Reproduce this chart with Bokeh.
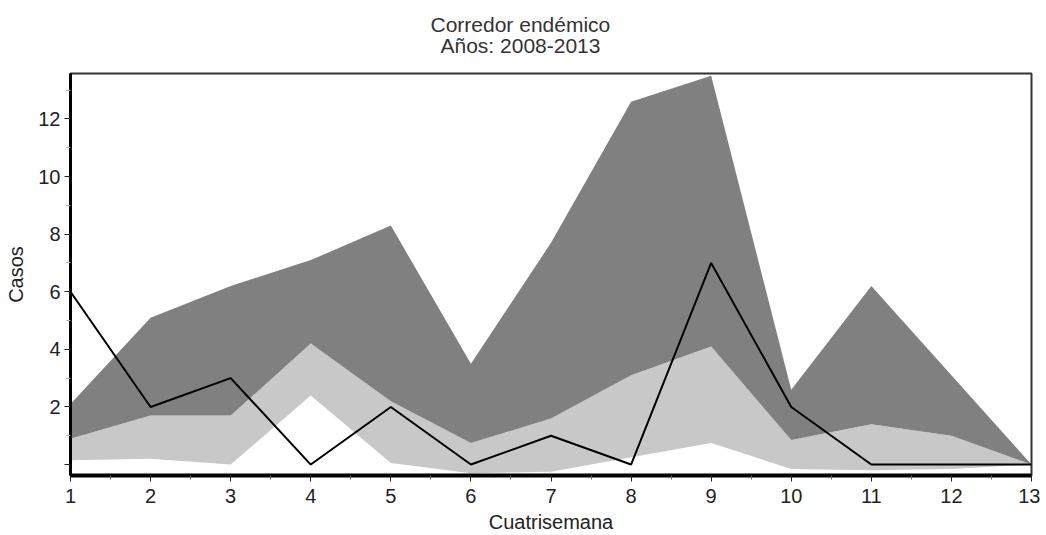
from bokeh.plotting import figure
from bokeh.models import FixedTicker, Range1d, Title
from bokeh.embed import file_html
from bokeh.resources import INLINE

# ---- data ----
cuatrisemanas = [1, 2, 3, 4, 5, 6, 7, 8, 9, 10, 11, 12, 13]
limite_superior = [2.1, 5.1, 6.2, 7.1, 8.3, 3.5, 7.7, 12.6, 13.5, 2.6, 6.2, 3.1, 0.0]
mediana = [0.9, 1.7, 1.7, 4.2, 2.2, 0.75, 1.6, 3.1, 4.1, 0.85, 1.4, 1.0, 0.0]
limite_inferior = [0.15, 0.2, 0.0, 2.4, 0.05, -0.3, -0.25, 0.25, 0.75, -0.15, -0.2, -0.15, 0.0]
casos_observados = [6, 2, 3, 0, 2, 0, 1, 0, 7, 2, 0, 0, 0]

y_ticks = [0, 2, 4, 6, 8, 10, 12]
y_minor = [1, 3, 5, 7, 9, 11, 13]
x_ticks = cuatrisemanas
x_minor = [1.5, 2.5, 3.5, 4.5, 5.5, 6.5, 7.5, 8.5, 9.5, 10.5, 11.5, 12.5]

titulo_1 = "Corredor endémico"
titulo_2 = "Años: 2008-2013"
etiqueta_x = "Cuatrisemana"
etiqueta_y = "Casos"

FONT = "Liberation Sans"

p = figure(width=1040, height=535, output_backend="svg", toolbar_location=None,
           x_range=Range1d(1, 13), y_range=Range1d(-0.38, 13.58),
           min_border_left=70, min_border_right=9, min_border_top=73, min_border_bottom=60,
           background_fill_color="white", border_fill_color="white")
p.grid.visible = False
p.outline_line_color = "#333333"
p.outline_line_width = 2

# bands
p.varea(x=cuatrisemanas, y1=limite_inferior, y2=mediana, fill_color="#c8c8c8")
p.varea(x=cuatrisemanas, y1=mediana, y2=limite_superior, fill_color="#808080")
# observed
p.line(x=cuatrisemanas, y=casos_observados, line_color="black", line_width=2)

# axes
xa = p.xaxis[0]
xa.ticker = FixedTicker(ticks=x_ticks, minor_ticks=x_minor)
xa.axis_line_width = 4
xa.axis_line_color = "black"
xa.major_tick_out = 6
xa.major_tick_in = 0
xa.minor_tick_out = 4
xa.minor_tick_in = 0
xa.major_tick_line_color = "#222222"
xa.minor_tick_line_color = "#666666"
xa.major_label_text_font = FONT
xa.major_label_text_font_size = "20px"
xa.major_label_text_color = "#222222"
xa.major_label_standoff = 7
xa.axis_label = etiqueta_x
xa.axis_label_text_font = FONT
xa.axis_label_text_font_size = "20px"
xa.axis_label_text_font_style = "normal"
xa.axis_label_text_color = "#222222"
xa.axis_label_standoff = 5

ya = p.yaxis[0]
ya.ticker = FixedTicker(ticks=y_ticks, minor_ticks=y_minor)
ya.major_label_overrides = {0: ""}
ya.axis_line_width = 3
ya.axis_line_color = "black"
ya.major_tick_out = 6
ya.major_tick_in = 0
ya.minor_tick_out = 4
ya.minor_tick_in = 0
ya.major_tick_line_color = "#222222"
ya.minor_tick_line_color = "#aaaaaa"
ya.major_label_text_font = FONT
ya.major_label_text_font_size = "20px"
ya.major_label_text_color = "#222222"
ya.major_label_standoff = 4
ya.axis_label = etiqueta_y
ya.axis_label_text_font = FONT
ya.axis_label_text_font_size = "20px"
ya.axis_label_text_font_style = "normal"
ya.axis_label_text_color = "#222222"
ya.axis_label_standoff = 8

# two-line title (second line nearest the frame)
p.add_layout(Title(text=titulo_2, align="left", offset=370, standoff=33,
                   text_font=FONT, text_font_size="21px", text_font_style="normal",
                   text_color="#333333"), "above")
p.add_layout(Title(text=titulo_1, align="left", offset=360, standoff=-40,
                   text_font=FONT, text_font_size="21px", text_font_style="normal",
                   text_color="#333333"), "above")

open("out.html", "w").write(file_html(p, INLINE))
